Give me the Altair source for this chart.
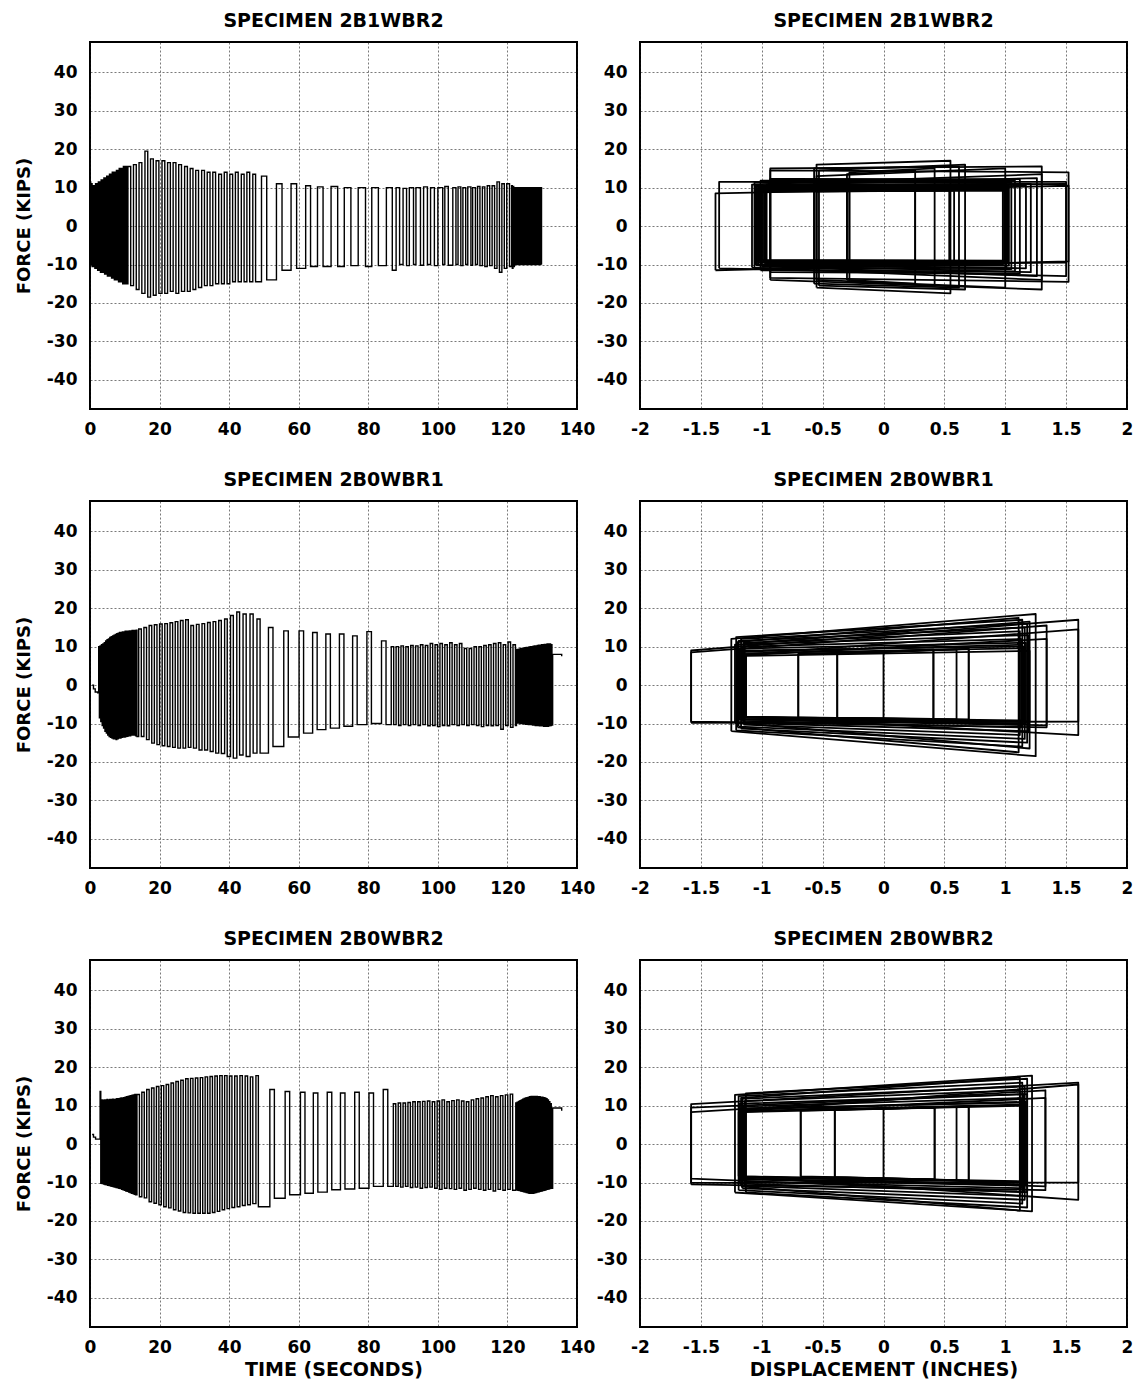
import altair as alt
import pandas as pd

# ---------------- time histories (switch times, plateau levels) ----------------
# Specimen 2B1WBR2
p1a_up = [0.0,0.4,0.8,1.2,1.6,2.0,2.4,2.8,3.2,3.6,4.0,4.4,4.8,5.2,5.6,6.0,6.4,6.8,7.2,7.6,8.0,8.4,8.8,9.2,9.6,10.0,10.4]
p1a_hi = [11.5,11.0,10.5,10.5,11.0,11.0,11.5,11.5,12.0,12.0,12.5,12.5,13.0,13.0,13.5,13.5,14.0,14.0,14.0,14.5,14.5,15.0,15.0,15.0,15.5,15.5,15.5]
p1a_dn = [0.2,0.6,1.0,1.4,1.8,2.2,2.6,3.0,3.4,3.8,4.2,4.6,5.0,5.4,5.8,6.2,6.6,7.0,7.4,7.8,8.2,8.6,9.0,9.4,9.8,10.2,10.6]
p1a_lo = [-10.0,-10.5,-10.5,-11.0,-11.0,-11.5,-11.5,-12.0,-12.0,-12.0,-12.5,-12.5,-13.0,-13.0,-13.0,-13.5,-13.5,-14.0,-14.0,-14.0,-14.5,-14.5,-14.5,-15.0,-15.0,-15.0,-15.0]
p1b_up = [10.9,12.5,14.1,15.8,17.4,19.0,20.7,22.3,23.9,25.5,27.2,28.8,30.4,32.1,33.7,35.3,37.0,38.6,40.2,41.8,43.5,45.1,46.8]
p1b_hi = [15.5,16.0,16.5,19.5,17.5,17.0,17.0,16.5,16.5,16.0,15.5,15.0,14.5,14.5,14.0,14.0,13.5,14.0,13.5,14.0,13.5,14.0,13.5]
p1b_dn = [11.7,13.3,14.9,16.6,18.2,19.8,21.5,23.1,24.7,26.3,28.0,29.6,31.2,32.9,34.5,36.1,37.8,39.4,41.0,42.6,44.3,45.9,47.6]
p1b_lo = [-15.5,-16.5,-17.5,-18.5,-18.0,-17.5,-17.5,-17.0,-17.5,-17.0,-17.0,-16.5,-16.0,-15.5,-15.5,-15.0,-15.0,-15.0,-14.5,-14.5,-14.5,-14.5,-14.5]
p1c_up = [49.3,53.6,57.8,62.0,65.4,69.3,73.1,77.1,81.0,85.2]
p1c_hi = [13.0,11.0,11.0,10.5,10.2,10.3,10.0,10.0,10.0,10.0]
p1c_dn = [50.8,55.2,59.4,63.4,67.0,71.2,75.0,79.2,82.9,86.9]
p1c_lo = [-14.0,-11.5,-11.0,-10.5,-10.5,-10.5,-10.3,-10.5,-10.3,-11.5]
p1d_up = [88.0,90.0,91.8,93.7,95.9,97.9,100.0,102.0,104.3,105.8,107.2,108.6,110.0,111.4,112.8,114.2,115.6,117.0,118.4,119.8]
p1d_hi = [10.0,9.8,10.0,10.0,10.2,10.0,10.0,10.3,10.0,10.2,10.0,10.2,10.0,10.3,10.2,10.5,10.5,11.5,11.0,11.0]
p1d_dn = [89.0,91.0,93.0,95.0,97.0,99.0,101.4,103.0,105.2,106.6,108.0,109.5,110.8,112.1,113.5,114.9,116.3,117.7,119.1,120.6]
p1d_lo = [-10.0,-10.3,-10.0,-10.2,-10.0,-10.3,-10.0,-10.2,-10.0,-10.3,-10.0,-10.2,-10.0,-10.3,-10.5,-10.3,-11.0,-12.0,-11.0,-10.5]
p1e_up = [121.2,121.6,122.0,122.4,122.8,123.2,123.6,124.0,124.4,124.8,125.2,125.6,126.0,126.4,126.8,127.2,127.6,128.0,128.4,128.8,129.2,129.6]
p1e_hi = [10.5,10.3,10.0,10.0,10.0,10.0,10.0,10.0,10.0,10.0,10.0,10.0,10.0,10.0,10.0,10.0,10.0,10.0,10.0,10.0,10.0,10.0]
p1e_dn = [121.4,121.8,122.2,122.6,123.0,123.4,123.8,124.2,124.6,125.0,125.4,125.8,126.2,126.6,127.0,127.4,127.8,128.2,128.6,129.0,129.4,129.8]
p1e_lo = [-11.0,-10.5,-10.0,-10.0,-10.0,-10.0,-10.0,-10.0,-10.0,-10.0,-10.0,-10.0,-10.0,-10.0,-10.0,-10.0,-10.0,-10.0,-10.0,-10.0,-10.0,-10.0]

# Specimen 2B0WBR1
p2_lead_t = [0.6,1.0,1.5,2.2]
p2_lead_f = [0.0,-1.0,-1.8,-2.0]
p2a_up = [2.5,2.9,3.3,3.7,4.1,4.5,4.9,5.3,5.7,6.1,6.5,6.9,7.3,7.7,8.1,8.5,8.9,9.3,9.7,10.1,10.5,10.9,11.3,11.7,12.1,12.5,12.9,13.3]
p2a_hi = [10.0,10.2,10.5,10.7,11.0,11.5,11.8,12.0,12.4,12.6,12.8,13.0,13.2,13.4,13.5,13.7,13.7,13.8,13.8,14.0,14.0,14.0,14.1,14.1,14.2,14.2,14.2,14.3]
p2a_dn = [2.7,3.1,3.5,3.9,4.3,4.7,5.1,5.5,5.9,6.3,6.7,7.1,7.5,7.9,8.3,8.7,9.1,9.5,9.9,10.3,10.7,11.1,11.5,11.9,12.3,12.7,13.1,13.5]
p2a_lo = [-8.5,-9.5,-10.5,-11.2,-12.0,-12.5,-13.0,-13.4,-13.6,-13.8,-14.0,-14.0,-14.2,-14.0,-13.8,-13.8,-13.6,-13.5,-13.5,-13.4,-13.3,-13.2,-13.2,-13.0,-13.0,-13.0,-13.2,-13.4]
p2b_up = [14.0,15.5,17.0,18.5,20.0,21.5,23.0,24.5,26.0,27.5,29.0,30.6,32.2,33.8,35.4,37.0,38.7,40.4,42.2,44.0,46.0,48.0]
p2b_hi = [14.6,15.0,15.5,15.7,15.9,16.0,16.2,16.5,16.8,17.0,15.5,15.8,16.0,16.3,16.5,16.8,17.2,18.1,19.0,18.5,18.5,17.2]
p2b_dn = [14.75,16.25,17.75,19.25,20.75,22.25,23.75,25.25,26.75,28.25,29.75,31.35,32.95,34.55,36.15,37.75,39.45,41.2,43.0,44.9,46.9,48.9]
p2b_lo = [-13.4,-14.2,-15.1,-15.5,-15.8,-16.0,-16.2,-16.4,-16.4,-16.2,-16.4,-16.9,-16.9,-17.3,-17.7,-17.8,-18.6,-19.0,-18.2,-18.6,-17.7,-17.7]
p2c_up = [51.3,55.7,60.1,64.0,67.8,71.7,75.5,79.6,83.8]
p2c_hi = [15.0,14.1,14.1,13.7,13.3,13.3,12.8,13.9,11.5]
p2c_dn = [52.6,57.0,61.4,65.3,69.1,73.0,76.8,80.9,85.1]
p2c_lo = [-16.0,-13.5,-12.5,-11.6,-11.2,-10.7,-10.3,-10.0,-10.3]
p2d_up = [86.6,88.0,89.4,90.8,92.2,93.6,95.0,96.4,97.8,99.2,100.6,102.0,103.4,104.8,106.2,107.6,109.0,110.4,111.8,113.2,114.6,116.0,117.4,118.8,120.2,121.6]
p2d_hi = [10.0,10.0,10.2,10.0,10.3,10.2,10.5,10.3,10.8,10.5,10.8,10.5,11.0,10.5,10.8,9.5,9.5,10.0,10.0,10.3,10.5,10.8,11.0,10.5,11.2,10.5]
p2d_dn = [87.3,88.7,90.1,91.5,92.9,94.3,95.7,97.1,98.5,99.9,101.3,102.7,104.1,105.5,106.9,108.3,109.7,111.1,112.5,113.9,115.3,116.7,118.1,119.5,120.9,122.3]
p2d_lo = [-10.3,-10.5,-10.3,-10.5,-10.3,-10.5,-10.3,-10.6,-10.5,-10.8,-10.5,-10.6,-10.3,-10.5,-10.3,-10.5,-10.3,-10.5,-10.8,-10.5,-10.6,-10.5,-11.5,-10.5,-11.0,-10.5]
p2e_up = [122.6,123.0,123.4,123.8,124.2,124.6,125.0,125.4,125.8,126.2,126.6,127.0,127.4,127.8,128.2,128.6,129.0,129.4,129.8,130.2,130.6,131.0,131.4,131.8,132.2,132.6]
p2e_hi = [9.3,9.3,9.4,9.5,9.5,9.6,9.7,9.8,9.8,9.9,10.0,10.0,10.1,10.2,10.2,10.3,10.4,10.4,10.5,10.5,10.6,10.6,10.7,10.7,10.7,10.5]
p2e_dn = [122.8,123.2,123.6,124.0,124.4,124.8,125.2,125.6,126.0,126.4,126.8,127.2,127.6,128.0,128.4,128.8,129.2,129.6,130.0,130.4,130.8,131.2,131.6,132.0,132.4,132.8]
p2e_lo = [-9.9,-9.9,-10.0,-10.0,-10.1,-10.1,-10.2,-10.2,-10.3,-10.3,-10.3,-10.4,-10.4,-10.5,-10.5,-10.5,-10.6,-10.6,-10.6,-10.7,-10.7,-10.7,-10.7,-10.6,-10.5,-10.4]
p2_tail_t = [133.0,135.6]
p2_tail_f = [8.0,7.5]

# Specimen 2B0WBR2
p3_lead_t = [0.6,1.0,1.6,2.4]
p3_lead_f = [2.5,1.8,1.3,1.3]
p3a_up = [2.9,3.3,3.7,4.1,4.5,4.9,5.3,5.7,6.1,6.5,6.9,7.3,7.7,8.1,8.5,8.9,9.3,9.7,10.1,10.5,10.9,11.3,11.7,12.1,12.5,12.9]
p3a_hi = [13.7,11.5,11.4,11.5,11.5,11.6,11.5,11.6,11.6,11.7,11.6,11.7,11.8,11.8,11.9,12.0,12.0,12.1,12.2,12.3,12.4,12.5,12.6,12.7,12.8,12.9]
p3a_dn = [3.1,3.5,3.9,4.3,4.7,5.1,5.5,5.9,6.3,6.7,7.1,7.5,7.9,8.3,8.7,9.1,9.5,9.9,10.3,10.7,11.1,11.5,11.9,12.3,12.7,13.1]
p3a_lo = [-10.2,-10.3,-10.4,-10.5,-10.6,-10.7,-10.8,-10.9,-11.0,-11.1,-11.2,-11.3,-11.4,-11.5,-11.6,-11.8,-11.9,-12.0,-12.2,-12.3,-12.5,-12.6,-12.8,-12.9,-13.1,-13.2]
p3b_up = [13.5,14.9,16.3,17.7,19.1,20.5,21.9,23.3,24.7,26.1,27.5,28.9,30.3,31.7,33.1,34.5,35.9,37.3,38.7,40.1,41.6,43.1,44.6,46.1,47.7]
p3b_hi = [12.9,13.5,14.2,14.6,15.0,15.2,15.5,15.9,16.3,16.6,17.0,17.1,17.2,17.3,17.5,17.6,17.7,17.8,17.8,17.7,17.7,17.8,17.7,17.5,17.8]
p3b_dn = [14.2,15.6,17.0,18.4,19.8,21.2,22.6,24.0,25.4,26.8,28.2,29.6,31.0,32.4,33.8,35.2,36.6,38.0,39.4,40.8,42.3,43.8,45.3,46.8,48.4]
p3b_lo = [-13.7,-14.0,-15.0,-15.4,-15.8,-16.3,-16.6,-17.1,-17.4,-17.8,-17.9,-18.0,-18.0,-18.0,-18.0,-17.8,-17.5,-17.1,-16.8,-16.5,-16.3,-16.0,-15.8,-15.5,-16.3]
p3c_up = [51.7,56.1,60.5,64.2,68.2,72.0,76.1,80.2,84.3]
p3c_hi = [14.2,13.7,13.5,13.3,13.5,13.3,13.5,13.3,14.2]
p3c_dn = [53.0,57.4,61.8,65.5,69.5,73.3,77.4,81.5,85.6]
p3c_lo = [-14.1,-13.2,-12.8,-12.5,-11.9,-11.7,-11.5,-11.0,-11.0]
p3d_up = [87.2,88.6,90.0,91.4,92.8,94.2,95.6,97.0,98.4,99.8,101.2,102.6,104.0,105.4,106.8,108.2,109.6,111.0,112.4,113.8,115.2,116.6,118.0,119.4,120.8]
p3d_hi = [10.5,10.7,10.7,10.8,11.0,11.0,11.1,11.2,11.0,11.2,11.5,11.0,11.3,11.5,11.2,11.0,11.5,11.8,12.0,12.3,12.6,12.3,12.6,12.8,13.0]
p3d_dn = [87.9,89.3,90.7,92.1,93.5,94.9,96.3,97.7,99.1,100.5,101.9,103.3,104.7,106.1,107.5,108.9,110.3,111.7,113.1,114.5,115.9,117.3,118.7,120.1,121.5]
p3d_lo = [-11.0,-11.2,-11.0,-11.3,-11.2,-11.5,-11.3,-11.2,-11.5,-11.8,-11.5,-11.6,-11.8,-11.5,-12.0,-11.8,-11.5,-11.8,-12.0,-11.8,-12.2,-11.8,-12.0,-11.8,-12.0]
p3e_up = [122.4,122.8,123.2,123.6,124.0,124.4,124.8,125.2,125.6,126.0,126.4,126.8,127.2,127.6,128.0,128.4,128.8,129.2,129.6,130.0,130.4,130.8,131.2,131.6,132.0,132.4]
p3e_hi = [10.7,10.9,11.1,11.3,11.5,11.7,11.9,12.0,12.1,12.2,12.3,12.4,12.4,12.4,12.4,12.4,12.3,12.3,12.2,12.2,12.1,12.0,11.8,11.5,11.0,10.5]
p3e_dn = [122.6,123.0,123.4,123.8,124.2,124.6,125.0,125.4,125.8,126.2,126.6,127.0,127.4,127.8,128.2,128.6,129.0,129.4,129.8,130.2,130.6,131.0,131.4,131.8,132.2,132.6]
p3e_lo = [-11.9,-12.0,-12.1,-12.2,-12.3,-12.4,-12.5,-12.6,-12.7,-12.8,-12.8,-12.8,-12.8,-12.7,-12.6,-12.5,-12.4,-12.3,-12.2,-12.1,-12.0,-11.9,-11.8,-11.7,-11.6,-11.5]
p3_tail_t = [133.0,135.6]
p3_tail_f = [9.4,8.7]

# ---------------- hysteresis loops (left/right displacement, top/bottom forces) ----------------
h1_dl = [-1.00,-1.02,-0.98,-1.04,-0.96,-1.06,-1.01,-0.93,-1.03,-1.05,-1.00,-1.08,-1.05,-1.38,-1.35,-0.93,-0.55,-0.57,-0.30,-0.28,-0.53,-0.55,-0.93,-0.55,-0.30,-0.57,-0.28,-0.93,-0.99,-1.03,-0.97]
h1_dr = [1.00,1.02,0.99,1.03,1.01,1.05,1.08,1.12,1.17,1.21,1.26,1.30,1.50,1.52,1.50,1.52,0.55,0.62,0.26,0.42,0.67,1.00,1.30,0.54,0.58,1.00,1.02,0.26,1.00,1.01,0.98]
h1_tl = [9.0,9.5,10.0,10.4,10.8,11.3,11.8,12.3,10.0,10.3,10.6,10.8,10.5,8.5,11.5,14.5,16.0,15.0,13.5,14.0,14.5,13.0,15.0,9.0,9.2,9.3,9.5,9.0,9.3,9.8,10.2]
h1_tr = [9.2,9.6,10.0,10.5,11.0,11.3,11.8,12.2,10.5,11.0,12.5,13.5,11.0,10.5,11.5,14.0,17.0,15.5,14.5,15.0,16.0,15.0,15.5,9.3,9.3,9.5,9.8,9.2,9.4,9.9,10.3]
h1_bl = [-8.8,-9.2,-9.6,-10.0,-10.5,-11.0,-11.5,-12.0,-10.0,-10.2,-10.5,-10.8,-10.0,-11.5,-11.0,-13.5,-16.0,-15.0,-14.0,-14.5,-15.5,-14.0,-14.0,-9.0,-9.0,-9.1,-9.3,-8.9,-9.0,-9.4,-9.8]
h1_br = [-9.0,-9.4,-9.8,-10.3,-10.8,-11.2,-11.8,-12.3,-11.0,-12.0,-13.0,-14.0,-9.5,-9.2,-13.0,-14.5,-17.5,-16.0,-15.0,-15.5,-16.5,-16.0,-16.5,-9.2,-9.1,-9.3,-9.5,-9.0,-9.2,-9.6,-10.1]

h2_dl = [-1.20,-1.18,-1.16,-1.22,-1.15,-1.19,-1.17,-1.21,-1.14,-1.20,-1.58,-1.58,-1.13,-1.13,-0.70,-0.38,-0.70,0.00,-1.13,-1.25,-0.38,-1.17,-1.19]
h2_dr = [1.15,1.17,1.13,1.19,1.12,1.16,1.18,1.14,1.20,1.11,1.60,1.34,1.60,1.34,0.41,0.60,0.70,0.70,1.20,1.25,0.41,1.16,1.14]
h2_tl = [9.0,9.5,10.0,10.5,11.0,11.5,12.0,12.5,10.8,11.2,9.0,8.5,8.0,7.8,8.0,8.2,8.1,8.6,7.6,12.0,8.3,8.3,8.7]
h2_tr = [10.0,11.0,12.0,13.0,14.0,15.0,16.0,17.0,16.5,17.5,17.0,15.5,14.5,12.0,9.2,9.3,9.4,9.4,8.9,18.5,9.2,9.6,10.5]
h2_bl = [-8.3,-8.8,-9.3,-9.8,-10.3,-10.8,-11.3,-11.8,-10.0,-11.0,-9.8,-9.5,-8.3,-8.2,-8.5,-8.6,-8.4,-8.8,-8.2,-12.0,-8.6,-8.5,-9.0]
h2_br = [-9.2,-10.0,-11.0,-12.0,-13.0,-14.0,-15.0,-16.0,-16.5,-17.5,-9.5,-11.0,-13.0,-10.5,-8.8,-8.9,-9.0,-9.0,-9.5,-18.5,-8.8,-9.6,-10.4]

h3_dl = [-1.19,-1.17,-1.15,-1.18,-1.14,-1.16,-1.19,-1.13,-1.17,-1.58,-1.58,-1.15,-1.13,-0.68,-0.40,-0.68,0.00,-0.40,-1.58,-1.22,-1.16,-1.18]
h3_dr = [1.15,1.17,1.13,1.18,1.12,1.16,1.14,1.18,1.12,1.60,1.33,1.60,1.33,0.42,0.60,0.70,0.70,0.42,1.15,1.22,1.16,1.13]
h3_tl = [8.3,9.0,9.8,10.5,11.2,11.8,12.5,13.2,12.0,10.4,8.3,8.5,8.4,8.7,9.0,8.8,9.2,9.0,9.5,12.8,8.6,9.3]
h3_tr = [10.0,11.0,12.0,13.0,14.0,15.0,16.0,17.0,17.3,16.0,14.0,15.5,12.0,9.5,9.7,9.8,9.8,9.5,13.0,17.8,10.3,10.8]
h3_bl = [-8.4,-9.0,-9.7,-10.3,-10.9,-11.5,-12.0,-12.6,-11.0,-10.1,-10.5,-8.5,-8.4,-8.4,-8.6,-8.5,-8.9,-8.7,-9.0,-12.6,-8.6,-9.2]
h3_br = [-9.7,-10.5,-11.5,-12.5,-13.5,-14.5,-15.5,-16.5,-17.3,-10.0,-12.0,-14.5,-11.0,-9.2,-9.4,-9.5,-9.5,-9.2,-12.5,-17.5,-9.9,-10.8]

titles = ["SPECIMEN 2B1WBR2", "SPECIMEN 2B0WBR1", "SPECIMEN 2B0WBR2"]
time_ticks = [0, 20, 40, 60, 80, 100, 120, 140]
disp_ticks = [-2, -1.5, -1, -0.5, 0, 0.5, 1, 1.5, 2]
force_ticks = [-40, -30, -20, -10, 0, 10, 20, 30, 40]

FONT = "DejaVu Sans"
W, H = 487, 367
YDOM = [-47.6, 47.9]


def history(parts, lead_t=(), lead_f=(), tail_t=(), tail_f=()):
    pts = list(zip(lead_t, lead_f)) + list(zip(tail_t, tail_f))
    for up, hi, dn, lo in parts:
        pts += list(zip(up, hi)) + list(zip(dn, lo))
    pts.sort(key=lambda p: p[0])
    return pd.DataFrame({"t": [p[0] for p in pts], "f": [p[1] for p in pts],
                         "i": list(range(len(pts)))})


def loops(dl, dr, tl, tr, bl, br):
    rows = []
    for k in range(len(dl)):
        corners = [(dl[k], bl[k]), (dl[k], tl[k]), (dr[k], tr[k]), (dr[k], br[k]), (dl[k], bl[k])]
        for j, (d, f) in enumerate(corners):
            rows.append({"loop": k, "o": j, "d": d, "f": f})
    return pd.DataFrame(rows)


h_t = [
    history([(p1a_up, p1a_hi, p1a_dn, p1a_lo), (p1b_up, p1b_hi, p1b_dn, p1b_lo),
             (p1c_up, p1c_hi, p1c_dn, p1c_lo), (p1d_up, p1d_hi, p1d_dn, p1d_lo),
             (p1e_up, p1e_hi, p1e_dn, p1e_lo)]),
    history([(p2a_up, p2a_hi, p2a_dn, p2a_lo), (p2b_up, p2b_hi, p2b_dn, p2b_lo),
             (p2c_up, p2c_hi, p2c_dn, p2c_lo), (p2d_up, p2d_hi, p2d_dn, p2d_lo),
             (p2e_up, p2e_hi, p2e_dn, p2e_lo)], p2_lead_t, p2_lead_f, p2_tail_t, p2_tail_f),
    history([(p3a_up, p3a_hi, p3a_dn, p3a_lo), (p3b_up, p3b_hi, p3b_dn, p3b_lo),
             (p3c_up, p3c_hi, p3c_dn, p3c_lo), (p3d_up, p3d_hi, p3d_dn, p3d_lo),
             (p3e_up, p3e_hi, p3e_dn, p3e_lo)], p3_lead_t, p3_lead_f, p3_tail_t, p3_tail_f),
]
h_d = [loops(h1_dl, h1_dr, h1_tl, h1_tr, h1_bl, h1_br),
       loops(h2_dl, h2_dr, h2_tl, h2_tr, h2_bl, h2_br),
       loops(h3_dl, h3_dr, h3_tl, h3_tr, h3_bl, h3_br)]


def ptitle(text):
    return alt.TitleParams(text=text, font=FONT, fontSize=19, fontWeight="bold",
                           color="black", anchor="middle", offset=11)


def yaxis(with_title):
    if with_title:
        return alt.Axis(values=force_ticks, labelExpr="datum.value + ''", title="FORCE (KIPS)",
                        titleX=-66, titleBaseline="middle", titleAngle=270,
                        titleFontSize=18)
    return alt.Axis(values=force_ticks, labelExpr="datum.value + ''", title=None)


def xaxis(ticks, title):
    if title:
        return alt.Axis(values=ticks, labelExpr="datum.value + ''", title=title,
                        titleY=48, titleBaseline="alphabetic", titleFontSize=19)
    return alt.Axis(values=ticks, labelExpr="datum.value + ''", title=None)


panels = []
for r in range(3):
    bottom = r == 2
    tchart = alt.Chart(h_t[r], title=ptitle(titles[r])).mark_line(
        interpolate="step-after", color="black", strokeWidth=1.4
    ).encode(
        x=alt.X("t:Q", scale=alt.Scale(domain=[0, 140], nice=False, zero=False),
                axis=xaxis(time_ticks, "TIME (SECONDS)" if bottom else "")),
        y=alt.Y("f:Q", scale=alt.Scale(domain=YDOM, nice=False, zero=False), axis=yaxis(True)),
        order="i:Q",
    ).properties(width=W, height=H)
    dchart = alt.Chart(h_d[r], title=ptitle(titles[r])).mark_line(
        color="black", strokeWidth=1.8, strokeJoin="round"
    ).encode(
        x=alt.X("d:Q", scale=alt.Scale(domain=[-2, 2], nice=False, zero=False),
                axis=xaxis(disp_ticks, "DISPLACEMENT (INCHES)" if bottom else "")),
        y=alt.Y("f:Q", scale=alt.Scale(domain=YDOM, nice=False, zero=False), axis=yaxis(False)),
        detail="loop:N",
        order="o:Q",
    ).properties(width=W, height=H)
    panels += [tchart, dchart]

chart = alt.concat(*panels, columns=2, spacing={"row": 92, "column": 63}, bounds="flush").configure_view(
    stroke="black", strokeWidth=2
).configure_axis(
    grid=True, gridColor="#111111", gridDash=[2, 2], gridOpacity=0.7, gridWidth=0.8,
    domain=False, ticks=False, tickSize=0, labelFont=FONT, labelFontSize=17,
    labelFontWeight="bold", labelColor="black", labelOverlap=False, labelFlush=False,
    titleFont=FONT, titleFontWeight="bold", titleColor="black",
).configure_axisX(labelPadding=12).configure_axisY(labelPadding=13).properties(
    padding={"left": 14, "top": 11, "right": 5, "bottom": 5}, background="white"
)

chart.save("out.html", embed_options={"renderer": "svg", "actions": False})
